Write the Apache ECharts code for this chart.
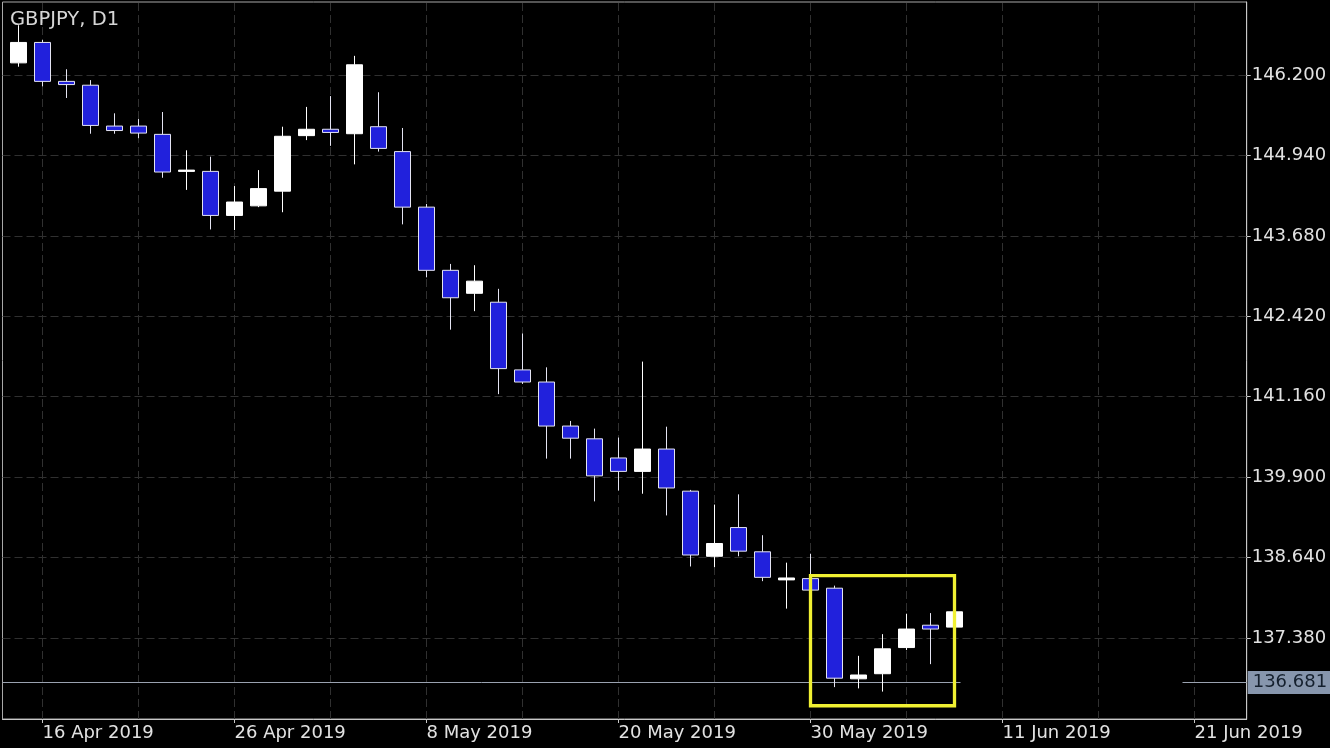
<!DOCTYPE html>
<html>
<head>
<meta charset="utf-8">
<script src="https://cdn.jsdelivr.net/npm/echarts@6/dist/echarts.min.js"></script>
<style>
html,body{margin:0;padding:0;background:#000;}
#chart{width:1330px;height:748px;}
</style>
</head>
<body>
<div id="chart"></div>
<script>
// ---- data ----
const dates = [
 '15 Apr 2019','16 Apr 2019','17 Apr 2019','18 Apr 2019','19 Apr 2019',
 '22 Apr 2019','23 Apr 2019','24 Apr 2019','25 Apr 2019','26 Apr 2019',
 '29 Apr 2019','30 Apr 2019','1 May 2019','2 May 2019','3 May 2019',
 '6 May 2019','7 May 2019','8 May 2019','9 May 2019','10 May 2019',
 '13 May 2019','14 May 2019','15 May 2019','16 May 2019','17 May 2019',
 '20 May 2019','21 May 2019','22 May 2019','23 May 2019','24 May 2019',
 '27 May 2019','28 May 2019','29 May 2019','30 May 2019','31 May 2019',
 '3 Jun 2019','4 Jun 2019','5 Jun 2019','6 Jun 2019','7 Jun 2019'
];
const opens  = [146.39,146.71,146.10,146.04,145.40,145.40,145.27,144.69,144.69,144.00,
                144.15,144.38,145.25,145.35,145.28,145.39,145.00,144.13,143.14,142.78,
                142.64,141.58,141.39,140.70,140.50,140.20,139.99,140.34,139.68,138.66,
                139.11,138.73,138.29,138.31,138.16,136.74,136.82,137.23,137.58,137.55];
const closes = [146.71,146.10,146.05,145.41,145.33,145.29,144.68,144.71,144.00,144.21,
                144.42,145.24,145.35,145.30,146.36,145.05,144.13,143.14,142.71,142.97,
                141.60,141.39,140.70,140.51,139.92,139.99,140.34,139.73,138.68,138.86,
                138.74,138.33,138.32,138.13,136.75,136.80,137.21,137.52,137.52,137.79];
const lows   = [146.33,146.02,145.84,145.28,145.28,145.21,144.59,144.40,143.78,143.77,
                144.13,144.05,145.18,145.09,144.80,145.00,143.86,143.03,142.21,142.50,
                141.20,141.36,140.19,140.19,139.52,139.69,139.64,139.30,138.50,138.49,
                138.66,138.27,137.84,138.12,136.61,136.59,136.54,137.19,136.97,137.54];
const highs  = [146.98,146.75,146.29,146.12,145.60,145.51,145.62,145.02,144.92,144.46,
                144.71,145.39,145.70,145.87,146.50,145.93,145.37,144.18,143.24,143.22,
                142.85,142.15,141.62,140.78,140.66,140.52,141.71,140.69,139.70,139.47,
                139.63,138.99,138.56,138.70,138.20,137.10,137.44,137.76,137.77,137.81];

const priceTicks = [137.380,138.640,139.900,141.160,142.420,143.680,144.940,146.200];
const dateTickIdx = [1,9,17,25,33,41,49];
const dateTickLabels = ['16 Apr 2019','26 Apr 2019','8 May 2019','20 May 2019','30 May 2019','11 Jun 2019','21 Jun 2019'];
const gridDateIdx = [1,5,9,13,17,21,25,29,33,37,41,45,49];
const currentPrice = 136.681;
const boxFrom = [33, 138.357];
const boxTo = [39, 136.318];

// ---- chart ----
const xMin = -0.667, xMax = 51.175;
const yMin = 136.1106, yMax = 147.3437;
const FONT = 'DejaVu Sans';

const candleData = opens.map((o, i) => [i, o, closes[i], lows[i], highs[i]]);

const gridStyle = {color: '#303030', width: 1, type: [8, 4]};
const markLines = [];
gridDateIdx.forEach(v => markLines.push({xAxis: v, lineStyle: gridStyle, label: {show: false}}));
priceTicks.forEach(v => markLines.push({yAxis: v, lineStyle: gridStyle, label: {show: false}}));
markLines.push([
  {coord: [xMin, currentPrice], lineStyle: {color: '#9aa2b0', width: 1, type: 'solid'}, label: {show: false}},
  {coord: [39.25, currentPrice]}
]);
markLines.push([
  {coord: [48.5, currentPrice], lineStyle: {color: '#9aa2b0', width: 1, type: 'solid'},
   label: {show: true, position: 'end', distance: 1, formatter: currentPrice.toFixed(3),
           backgroundColor: '#8796ad', color: '#15202e', fontFamily: FONT, fontSize: 18,
           padding: [3, 5, 2, 5]}},
  {coord: [xMax, currentPrice]}
]);

const chart = echarts.init(document.getElementById('chart'), null, {renderer: 'canvas'});
chart.setOption({
  backgroundColor: '#000000',
  animation: false,
  title: {
    text: 'GBPJPY, D1', left: 5, top: 5,
    textStyle: {color: '#d6d6d6', fontFamily: FONT, fontSize: 19.5, fontWeight: 'normal'}
  },
  grid: {left: 2.5, right: 83.3, top: 2, bottom: 29, show: true, borderColor: '#a8a8a8', borderWidth: 1, backgroundColor: 'transparent'},
  xAxis: {
    type: 'value', min: xMin, max: xMax,
    splitLine: {show: false},
    axisLine: {show: true, onZero: false, lineStyle: {color: '#c8c8c8', width: 1}},
    axisTick: {show: true, length: 4, customValues: dateTickIdx, lineStyle: {color: '#c8c8c8'}},
    axisLabel: {
      customValues: dateTickIdx, align: 'left', margin: 5,
      color: '#e2e2e2', fontFamily: FONT, fontSize: 18,
      formatter: v => { const k = dateTickIdx.indexOf(Math.round(v)); return k >= 0 ? dateTickLabels[k] : ''; }
    }
  },
  yAxis: {
    type: 'value', position: 'right', min: yMin, max: yMax, scale: true,
    splitLine: {show: false},
    axisLine: {show: true, onZero: false, lineStyle: {color: '#c8c8c8', width: 1}},
    axisTick: {show: true, length: 4, customValues: priceTicks, lineStyle: {color: '#c8c8c8'}},
    axisLabel: {
      customValues: priceTicks, margin: 5,
      color: '#e2e2e2', fontFamily: FONT, fontSize: 18,
      formatter: v => v.toFixed(3)
    }
  },
  series: [{
    type: 'candlestick',
    z: 2,
    barWidth: 16,
    data: candleData,
    itemStyle: {
      color: '#ffffff', color0: '#2121dc',
      borderColor: '#ffffff', borderColor0: '#e4e4f2', borderWidth: 1
    },
    markLine: {
      z: 1, silent: true, symbol: ['none', 'none'], animation: false,
      data: markLines
    }
  }, {
    type: 'line',
    z: 20,
    data: [],
    markArea: {
      z: 20, silent: true,
      itemStyle: {color: 'rgba(0,0,0,0)', borderColor: '#f0f032', borderWidth: 3.3},
      data: [[{coord: boxFrom}, {coord: boxTo}]]
    }
  }]
});
</script>
</body>
</html>
